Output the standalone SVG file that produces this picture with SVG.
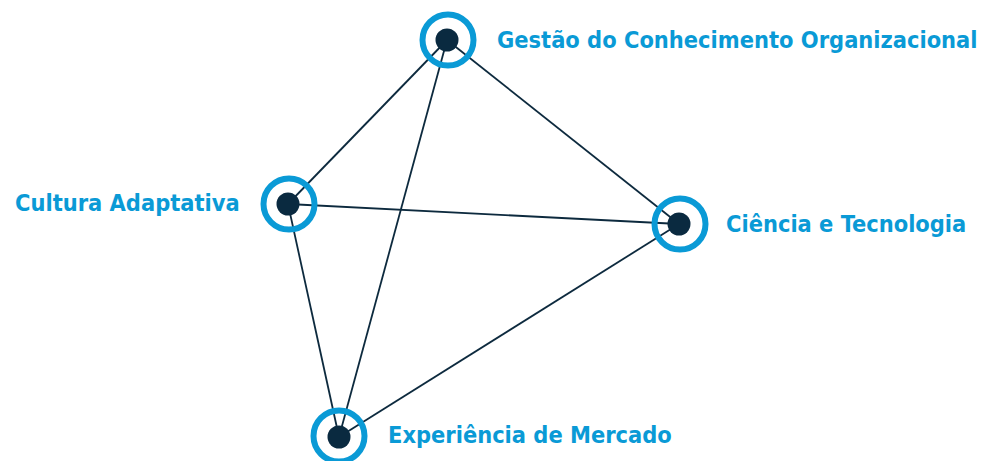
<svg xmlns="http://www.w3.org/2000/svg" width="982" height="461" viewBox="0 0 982 461">
<style>
.ring{fill:none;stroke:#0a9ad6;stroke-width:6}
.dot{fill:#0a2a40}
.edge{stroke:#0d2a3e;stroke-width:1.8;fill:none}
.lbl{font-family:"DejaVu Sans Condensed","DejaVu Sans",Verdana,sans-serif;font-weight:bold;font-size:23.4px;fill:#0a9ad6}
</style>
<rect width="982" height="461" fill="#ffffff"/>
<g id="connectors">
<line class="edge" x1="447" y1="40" x2="288" y2="204"/>
<line class="edge" x1="447" y1="40" x2="679" y2="224"/>
<line class="edge" x1="447" y1="40" x2="339" y2="437"/>
<line class="edge" x1="288" y1="204" x2="679" y2="224"/>
<line class="edge" x1="288" y1="204" x2="339" y2="437"/>
<line class="edge" x1="679" y1="224" x2="339" y2="437"/>
</g>
<g id="node-gestao">
<circle class="ring" cx="448" cy="40" r="25.5"/>
<circle class="dot" cx="447" cy="40" r="11.5"/>
<text class="lbl" x="497" y="48">Gestão do Conhecimento Organizacional</text>
</g>
<g id="node-cultura">
<circle class="ring" cx="289" cy="204" r="25.5"/>
<circle class="dot" cx="288" cy="204" r="11.5"/>
<text class="lbl" x="15" y="211">Cultura Adaptativa</text>
</g>
<g id="node-ciencia">
<circle class="ring" cx="680" cy="224" r="25.5"/>
<circle class="dot" cx="679" cy="224" r="11.5"/>
<text class="lbl" x="726" y="232">Ciência e Tecnologia</text>
</g>
<g id="node-experiencia">
<circle class="ring" cx="339" cy="436" r="25.5"/>
<circle class="dot" cx="339" cy="437" r="11.5"/>
<text class="lbl" x="388" y="443">Experiência de Mercado</text>
</g>
</svg>
